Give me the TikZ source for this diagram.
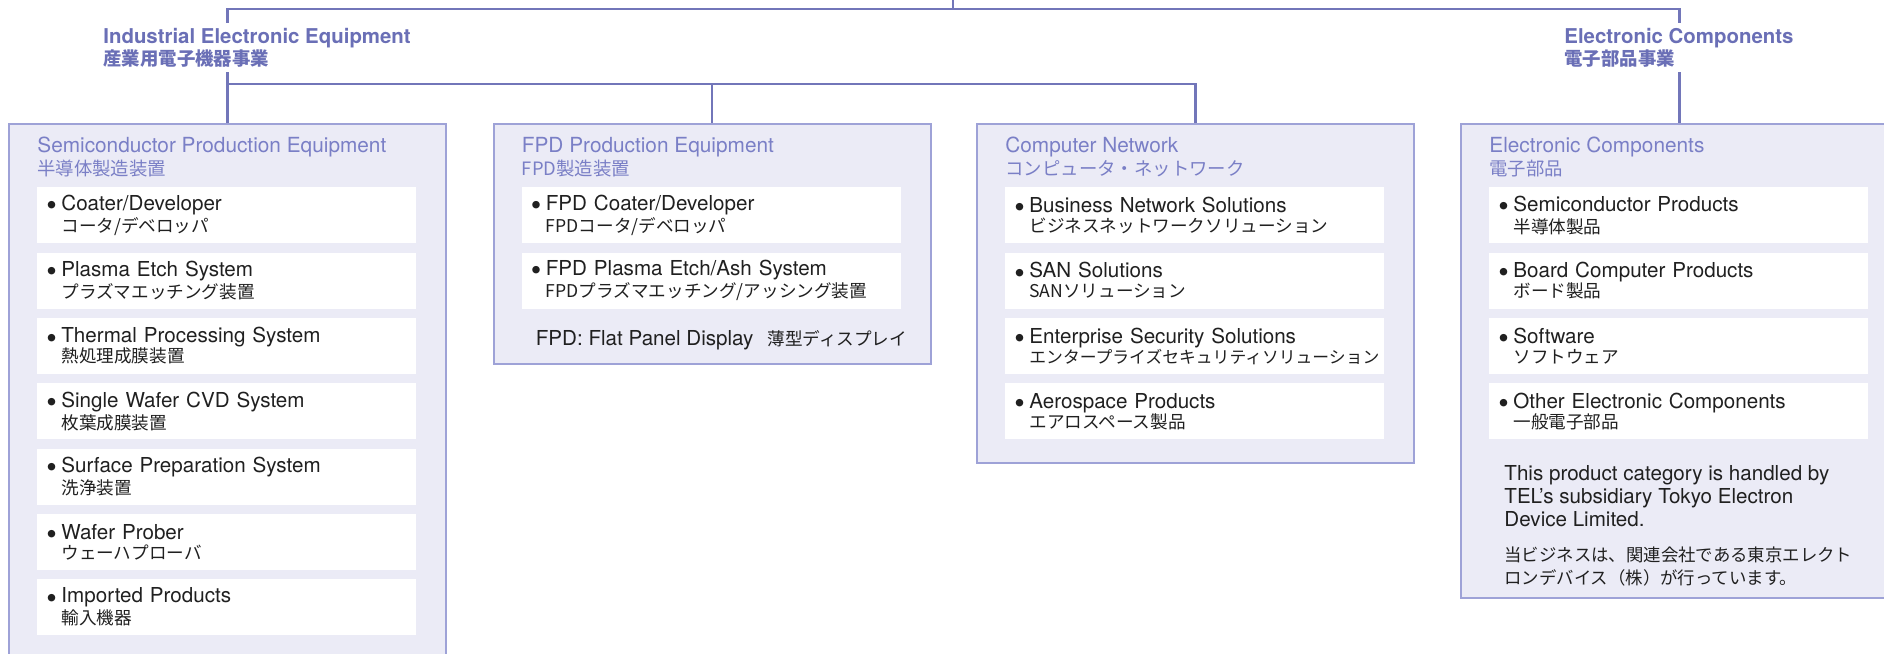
\documentclass[tikz,border=0pt]{standalone}
\usepackage{fontspec}
\setmainfont{TeX Gyre Heros}
\newfontfamily\jp{Noto Sans CJK JP}
\usetikzlibrary{positioning}

\definecolor{linkcol}{RGB}{114,118,185}
\definecolor{boxline}{RGB}{158,162,215}
\definecolor{boxfill}{RGB}{235,235,246}
\definecolor{titlecol}{RGB}{122,127,198}
\definecolor{divcol}{RGB}{106,111,182}
\definecolor{itemcol}{RGB}{32,32,32}

% bullet line with the japanese name underneath
\newcommand{\dotmark}{\raisebox{-2.6pt}{\fontsize{15}{15}\selectfont\textbullet}}
\newcommand{\bul}[2]{\lineskiplimit=-10pt\relax
  \noindent\hbox to 7.5pt{\dotmark\hfil}#1\par
  \noindent\hbox to 7.5pt{}{\jp\fontsize{8.8}{10}\selectfont#2}}

\begin{document}
\begin{tikzpicture}[x=0.5pt,y=-0.5pt,line join=miter]

  \tikzstyle{unitbox}=[rectangle,draw=boxline,fill=boxfill,line width=1pt,
                       minimum width=218.5pt,anchor=north]
  \tikzstyle{unittitle}=[inner sep=0pt,align=left,text=titlecol,
                         font=\fontsize{10.4}{11.5}\selectfont]
  \tikzstyle{itembox}=[rectangle,fill=white,text=itemcol,
                       minimum height=28pt,inner xsep=4.5pt,inner ysep=0pt,
                       text width=180.5pt,font=\fontsize{10.3}{10}\selectfont]
  \tikzstyle{note}=[inner sep=0pt,align=left,text=itemcol,
                    font=\fontsize{10.3}{11.5}\selectfont]
  \tikzstyle{division}=[fill=white,inner xsep=2pt,inner ysep=2.5pt,anchor=north west,
                        align=left,text=divcol,font=\bfseries\fontsize{10.2}{11}\selectfont]
  \tikzstyle{link}=[draw=linkcol,line width=1.4pt]

  \useasboundingbox (0,0) rectangle (1884,653);

  % the four business units
  \node[unitbox,minimum height=270pt]   (SPE) at (227.5,123)  {};
  \node[unitbox,minimum height=120pt]   (FPD) at (712,123)    {};
  \node[unitbox,minimum height=169.5pt] (CN)  at (1195.5,123) {};
  \node[unitbox,minimum height=237pt]   (EC)  at (1679.5,123) {};

  \node[unittitle,below right=7pt and 14.5pt of SPE.north west] (SPEt)
       {Semiconductor Production Equipment\\{\jp\fontsize{9.2}{11.5}\selectfont 半導体製造装置}};
  \node[unittitle,below right=7pt and 14.5pt of FPD.north west] (FPDt)
       {FPD Production Equipment\\{\jp\fontsize{9.2}{11.5}\selectfont FPD製造装置}};
  \node[unittitle,below right=7pt and 14.5pt of CN.north west] (CNt)
       {Computer Network\\{\jp\fontsize{9.2}{11.5}\selectfont コンピュータ・ネットワーク}};
  \node[unittitle,below right=7pt and 14.5pt of EC.north west] (ECt)
       {Electronic Components\\{\jp\fontsize{9.2}{11.5}\selectfont 電子部品}};

  % semiconductor production equipment
  \node[itembox,below right=32pt and 14.5pt of SPE.north west] (SPE1) {\bul{Coater/Developer}{コータ/デベロッパ}};
  \node[itembox,below=4.25pt of SPE1] (SPE2) {\bul{Plasma Etch System}{プラズマエッチング装置}};
  \node[itembox,below=4.25pt of SPE2] (SPE3) {\bul{Thermal Processing System}{熱処理成膜装置}};
  \node[itembox,below=4.25pt of SPE3] (SPE4) {\bul{Single Wafer CVD System}{枚葉成膜装置}};
  \node[itembox,below=4.25pt of SPE4] (SPE5) {\bul{Surface Preparation System}{洗浄装置}};
  \node[itembox,below=4.25pt of SPE5] (SPE6) {\bul{Wafer Prober}{ウェーハプローバ}};
  \node[itembox,below=4.25pt of SPE6] (SPE7) {\bul{Imported Products}{輸入機器}};

  % fpd production equipment
  \node[itembox,below right=32pt and 14.5pt of FPD.north west] (FPD1) {\bul{FPD Coater/Developer}{FPDコータ/デベロッパ}};
  \node[itembox,below=4.25pt of FPD1] (FPD2) {\bul{FPD Plasma Etch/Ash System}{FPDプラズマエッチング/アッシング装置}};
  \node[note,below right=10.5pt and 7pt of FPD2.south west] (FPDn)
       {FPD: Flat Panel Display\hspace{7pt}{\jp\fontsize{8.8}{11}\selectfont 薄型ディスプレイ}};

  % computer network
  \node[itembox,below right=32pt and 14.5pt of CN.north west] (CN1) {\bul{Business Network Solutions}{ビジネスネットワークソリューション}};
  \node[itembox,below=4.25pt of CN1] (CN2) {\bul{SAN Solutions}{SANソリューション}};
  \node[itembox,below=4.25pt of CN2] (CN3) {\bul{Enterprise Security Solutions}{\fontsize{8.4}{10}\selectfont エンタープライズセキュリティソリューション}};
  \node[itembox,below=4.25pt of CN3] (CN4) {\bul{Aerospace Products}{エアロスペース製品}};

  % electronic components
  \node[itembox,below right=32pt and 14.5pt of EC.north west] (EC1) {\bul{Semiconductor Products}{半導体製品}};
  \node[itembox,below=4.25pt of EC1] (EC2) {\bul{Board Computer Products}{ボード製品}};
  \node[itembox,below=4.25pt of EC2] (EC3) {\bul{Software}{ソフトウェア}};
  \node[itembox,below=4.25pt of EC3] (EC4) {\bul{Other Electronic Components}{一般電子部品}};
  \node[note,below right=12.5pt and 7.5pt of EC4.south west] (ECn)
       {This product category is handled by\\TEL’s subsidiary Tokyo Electron\\Device Limited.\\[6pt]
        {\jp\fontsize{8.7}{11}\selectfont 当ビジネスは、関連会社である東京エレクト}\\
        {\jp\fontsize{8.7}{11}\selectfont ロンデバイス（株）が行っています。}};

  % tree lines
  \coordinate (root) at (953,-2);
  \coordinate (bar1) at (953,9);
  \coordinate (bar2) at (228,84);
  \draw[link] (root) -- (bar1);
  \draw[link] (SPE.north) |- (bar1) -| (EC.north);
  \draw[link] (SPE.north |- bar2) -| (CN.north);
  \draw[link] (FPD.north |- bar2) -- (FPD.north);

  % division names sit on the lines
  \node[division] (IEE) at (99,23)
       {Industrial Electronic Equipment\\{\jp\bfseries\fontsize{9.2}{11}\selectfont 産業用電子機器事業}};
  \node[division] (ECD) at (1560,23)
       {Electronic Components\\{\jp\bfseries\fontsize{9.2}{11}\selectfont 電子部品事業}};

\end{tikzpicture}
\end{document}
